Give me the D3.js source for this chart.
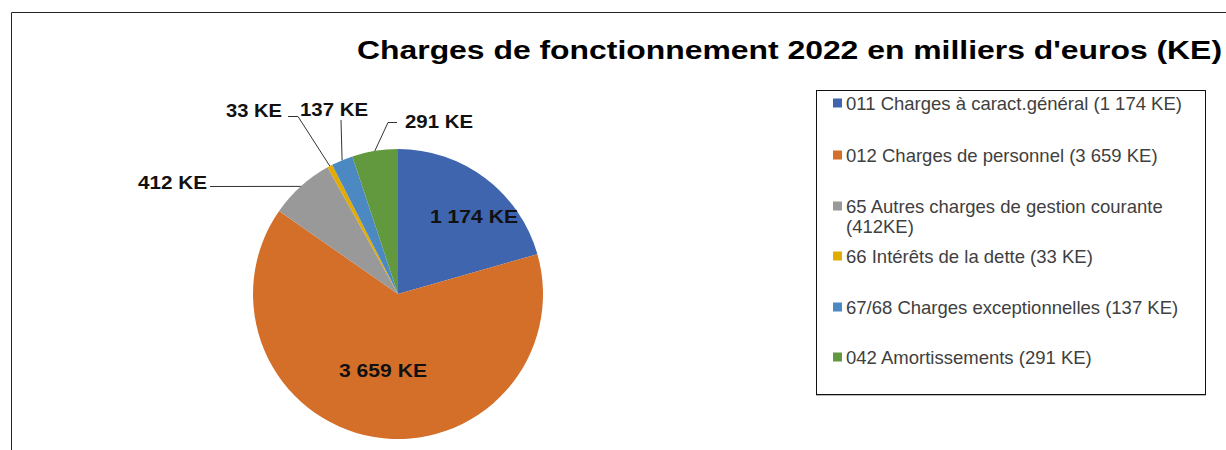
<!DOCTYPE html>
<html>
<head>
<meta charset="utf-8">
<script src="https://cdn.jsdelivr.net/npm/d3@7"></script>
<style>
  html, body { margin: 0; padding: 0; background: #fff; }
  svg { display: block; font-family: "Liberation Sans", Arial, sans-serif; }
  .lbl { font-weight: bold; font-size: 19px; fill: #111; }
  .leg { font-size: 18.5px; fill: #404040; }
  .leader { fill: none; stroke: #333; stroke-width: 1; }
</style>
</head>
<body>
<div id="chart"></div>
<script>
// Operating expenses 2022 (thousands of euros), slices clockwise from 12 o'clock.
const codes = ["011", "012", "65", "66", "67/68", "042"];
const values = [1174, 3659, 412, 33, 137, 291];
const sliceLabels = ["1 174 KE", "3 659 KE", "412 KE", "33 KE", "137 KE", "291 KE"];
const legendLabels = [
  ["011 Charges à caract.général (1 174 KE)"],
  ["012 Charges de personnel (3 659 KE)"],
  ["65 Autres charges de gestion courante", "(412KE)"],
  ["66 Intérêts de la dette (33 KE)"],
  ["67/68 Charges exceptionnelles (137 KE)"],
  ["042 Amortissements (291 KE)"]
];
const colors = ["#3F65AE", "#D46F2A", "#999999", "#E2AB00", "#4C89C2", "#62993E"];
const titleText = "Charges de fonctionnement  2022 en milliers d'euros (KE)";

const W = 1226, H = 450;
const cx = 398, cy = 294, R = 145;

const svg = d3.select("#chart").append("svg").attr("width", W).attr("height", H);

// outer frame (only left and top edges visible in the crop)
svg.append("path").attr("d", `M11.5,${H} V12.5 H${W}`).attr("fill", "none").attr("stroke", "#222");

svg.append("text").attr("x", 357).attr("y", 59)
  .attr("font-size", 26).attr("font-weight", "bold").attr("fill", "#000")
  .attr("textLength", 865).attr("lengthAdjust", "spacingAndGlyphs")
  .text(titleText);

const pie = d3.pie().sort(null).value((d) => d)(values);
const arc = d3.arc().innerRadius(0).outerRadius(R);
const g = svg.append("g").attr("transform", `translate(${cx},${cy})`);
g.selectAll("path.slice").data(pie).join("path").attr("class", "slice")
  .attr("d", arc).attr("fill", (d, i) => colors[i]);

// Label placement: inside labels for the large slices, leader lines for the small ones.
// offsets relative to pie centre; elbow = bend point of the leader line.
const labelLayout = [
  { inside: true, x: 76, y: -71, w: 88 },
  { inside: true, x: -15, y: 83, w: 88 },
  { anchor: "end", x: -191, y: -105, w: 69, elbow: [-188, -107.5] },
  { anchor: "end", x: -116, y: -177, w: 56, elbow: [-100, -177.5], elbow2: [-110, -177.5] },
  { anchor: "start", x: -98, y: -178, w: 68, elbow: [-57, -174] },
  { anchor: "start", x: 7, y: -166, w: 68, elbow: [-10, -171.5], elbow2: [-1, -171.5] }
];

const angleMid = (d) => (d.startAngle + d.endAngle) / 2;
pie.forEach((d, i) => {
  const L = labelLayout[i];
  if (!L.inside) {
    const a = angleMid(d);
    const pts = [[R * Math.sin(a), -R * Math.cos(a)], L.elbow];
    if (L.elbow2) pts.push(L.elbow2);
    else if (i === 2) pts.push([L.x + 3, L.elbow[1]]);
    g.append("path").attr("class", "leader").attr("d", d3.line()(pts));
  }
  g.append("text").attr("class", "lbl")
    .attr("x", L.x).attr("y", L.y)
    .attr("text-anchor", L.inside ? "middle" : L.anchor)
    .attr("textLength", L.w).attr("lengthAdjust", "spacingAndGlyphs")
    .text(sliceLabels[i]);
});

// Legend
const legX = 816, legY = 90, legW = 389, legH = 304;
svg.append("rect").attr("x", legX + 0.5).attr("y", legY + 1.5).attr("width", legW).attr("height", legH)
  .attr("fill", "none").attr("stroke", "#bbb");
svg.append("rect").attr("x", legX + 0.5).attr("y", legY + 0.5).attr("width", legW).attr("height", legH)
  .attr("fill", "#fff").attr("stroke", "#111");
const rowY = [103, 155, 206, 256, 307, 357];
const leg = svg.append("g");
codes.forEach((c, i) => {
  leg.append("rect").attr("x", 833).attr("y", rowY[i] - 4.5).attr("width", 9).attr("height", 9)
    .attr("fill", colors[i]);
  legendLabels[i].forEach((line, j) => {
    leg.append("text").attr("class", "leg").attr("x", 846).attr("y", rowY[i] + 6.5 + j * 20).text(line);
  });
});
</script>
</body>
</html>
